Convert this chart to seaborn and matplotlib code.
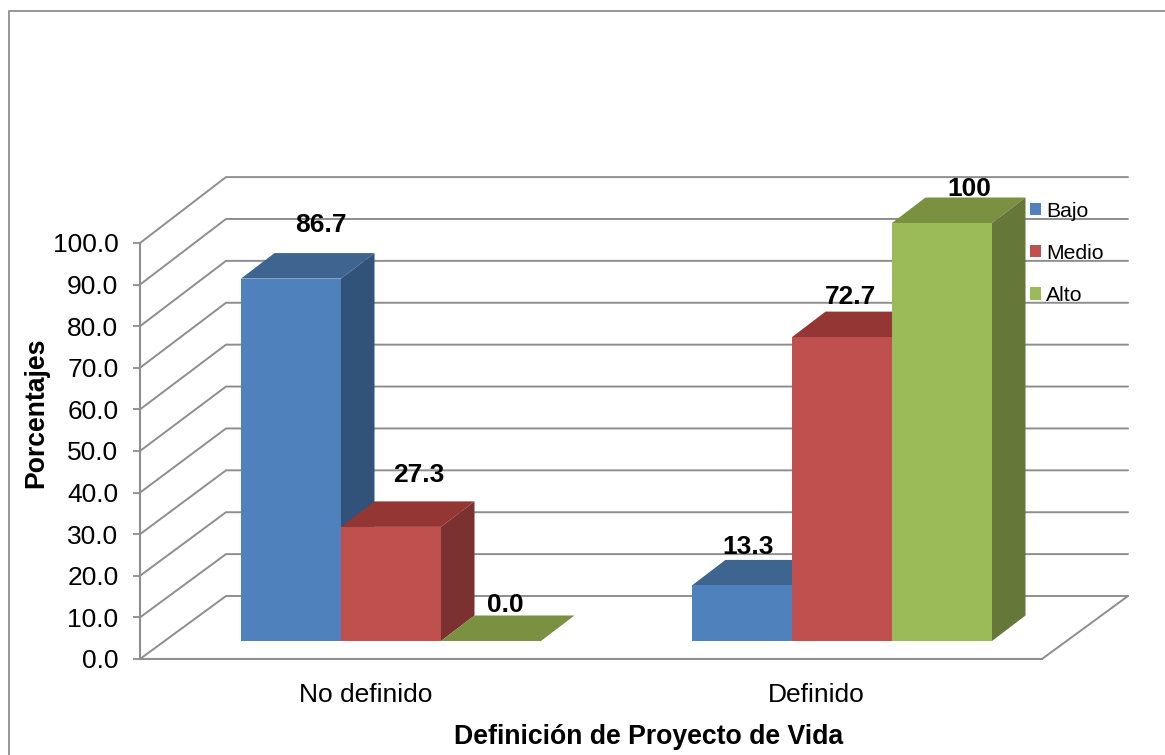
import matplotlib
matplotlib.use("Agg")
import matplotlib.pyplot as plt
from matplotlib.lines import Line2D
from matplotlib.patches import Polygon
import pandas as pd
import seaborn as sns

categorias = ["No definido", "Definido"]
niveles = ["Bajo", "Medio", "Alto"]
bajo = [86.7, 13.3]
medio = [27.3, 72.7]
alto = [0.0, 100.0]
etiquetas = {"Bajo": ["86.7", "13.3"], "Medio": ["27.3", "72.7"], "Alto": ["0.0", "100"]}
ticks_y = list(range(0, 101, 10))

colores = {"Bajo": "#4F81BD", "Medio": "#C0504D", "Alto": "#9BBB59"}
color_techo = {"Bajo": "#3E6490", "Medio": "#943634", "Alto": "#7A9141"}
color_lado = {"Bajo": "#325379", "Medio": "#7B3130", "Alto": "#65783A"}
GRIS = "#8E8E8E"

# Label offsets from the top-centre of each bar, in pixels
despl_etiquetas = {
    "Bajo": [(30, -54), (6, -38)],
    "Medio": [(28, -52), (8, -40)],
    "Alto": [(14, -36), (27, -34)],
}

W, H = 1165, 755
DPI = 100
sns.set_theme(style="white")
plt.rcParams["font.family"] = ["Liberation Sans", "DejaVu Sans"]
plt.rcParams["text.color"] = "black"
plt.rcParams["axes.labelcolor"] = "black"
plt.rcParams["xtick.labelcolor"] = "black"
plt.rcParams["ytick.labelcolor"] = "black"


def caja(x0, y_arriba, x1, y_abajo):
    """Axes rectangle in figure fractions from pixel edges (y measured from the top)."""
    return [x0 / W, 1 - y_abajo / H, (x1 - x0) / W, (y_abajo - y_arriba) / H]


fig = plt.figure(figsize=(W / DPI, H / DPI), dpi=DPI, facecolor="white")

# Outer chart border, open on the right and bottom edges
fig.add_artist(Line2D([8.5 / W, 8.5 / W, 1], [0, 1 - 10.5 / H, 1 - 10.5 / H],
                      color=GRIS, lw=1.3, transform=fig.transFigure))

# Front plane: value axis, category labels and the wall/floor lines
marco = fig.add_axes(caja(140, 243, 1042, 659))
marco.set_facecolor("none")
marco.set_xlim(-0.5, 1.5)
marco.set_ylim(0, 100)
marco.set_xticks(range(len(categorias)), categorias)
marco.set_yticks(ticks_y, [f"{v:.1f}" for v in ticks_y])
marco.tick_params(axis="x", length=0, labelsize=19, pad=17.4)
marco.tick_params(axis="y", length=5, width=1.3, color=GRIS, labelsize=19, pad=10.5, left=True)
for lado in ("top", "right"):
    marco.spines[lado].set_visible(False)
for lado in ("left", "bottom"):
    marco.spines[lado].set_color(GRIS)
    marco.spines[lado].set_linewidth(1.5)

marco.set_xlabel("Definición de Proyecto de Vida", fontweight="bold", fontsize=19.2, va="center")
marco.xaxis.set_label_coords((649 - 140) / 902, -(736.5 - 659) / 416)
marco.set_ylabel("Porcentajes", fontweight="bold", fontsize=19.2, va="center")
marco.yaxis.set_label_coords((36 - 140) / 902, (659 - 413) / 416)

# Receding depth of the chart box, in units of the front plane
fondo_x = 86 / 451
fondo_y = 63 / 4.16
x_ini, x_fin = marco.get_xlim()
for v in ticks_y:
    v_fondo = v * 1.007 + fondo_y
    marco.plot([x_ini, x_ini + fondo_x, x_fin + fondo_x], [v, v_fondo, v_fondo],
               color=GRIS, lw=1.4, clip_on=False, zorder=1)
marco.plot([x_fin, x_fin + fondo_x], [0, fondo_y], color=GRIS, lw=1.4, clip_on=False, zorder=1)

# Bars stand slightly behind the front plane
barras = fig.add_axes(caja(165.5, 223, 1067.5, 641))
barras.set_facecolor("none")
tabla = pd.DataFrame({
    "categoria": categorias * 3,
    "nivel": [n for n in niveles for _ in categorias],
    "valor": bajo + medio + alto,
})
ancho = 300 / 451
sns.barplot(data=tabla, x="categoria", y="valor", hue="nivel", order=categorias,
            hue_order=niveles, palette=colores, saturation=1, width=ancho, gap=0,
            legend=False, linewidth=0, ax=barras)
barras.set_xlim(-0.5, 1.5)
barras.set_ylim(0, 100)
barras.axis("off")

# Extrude each front face with a top and a side polygon
prof_x = 33.5 / 451
prof_y = 25.5 / 4.18
for i, (nivel, contenedor) in enumerate(zip(niveles, barras.containers)):
    z = 3 + i
    for j, barra in enumerate(contenedor.patches):
        barra.set_zorder(z + 0.5)
        x0, x1 = barra.get_x(), barra.get_x() + barra.get_width()
        alto_barra = barra.get_height()
        barras.add_patch(Polygon(
            [(x0, alto_barra), (x1, alto_barra), (x1 + prof_x, alto_barra + prof_y), (x0 + prof_x, alto_barra + prof_y)],
            closed=True, facecolor=color_techo[nivel], edgecolor="none", zorder=z, clip_on=False))
        if alto_barra > 0:
            barras.add_patch(Polygon(
                [(x1, 0), (x1 + prof_x, prof_y), (x1 + prof_x, alto_barra + prof_y), (x1, alto_barra)],
                closed=True, facecolor=color_lado[nivel], edgecolor="none", zorder=z, clip_on=False))
        dx, dy = despl_etiquetas[nivel][j]
        barras.annotate(etiquetas[nivel][j], xy=((x0 + x1) / 2, alto_barra), xytext=(dx * 0.72, -dy * 0.72),
                        textcoords="offset points", ha="center", va="center",
                        fontsize=19, fontweight="bold", zorder=10, annotation_clip=False)

leyenda = barras.legend(
    barras.containers, niveles, frameon=False, fontsize=15.2,
    handlelength=0.53, handleheight=0.53, handletextpad=0.22, labelspacing=1.1,
    borderpad=0, borderaxespad=0, loc="upper left",
    bbox_to_anchor=((1030 - 165.5) / 902, 1 - (201.5 - 223) / 418),
)
leyenda.set_zorder(12)

fig.savefig("out.png", dpi=DPI, facecolor="white")
